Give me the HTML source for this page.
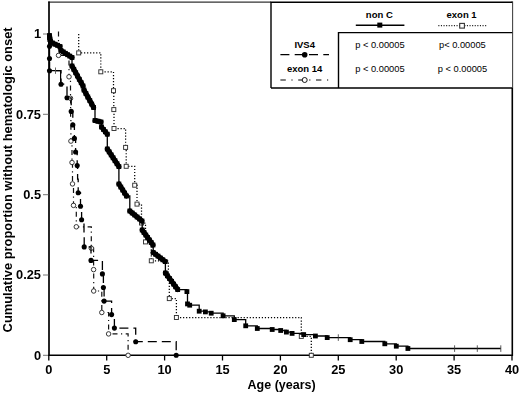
<!DOCTYPE html>
<html><head><meta charset="utf-8"><style>
html,body{margin:0;padding:0;background:#fff;width:520px;height:393px;overflow:hidden}
svg{display:block;filter:blur(0.25px)}
text{font-family:"Liberation Sans",sans-serif;fill:#000}
.tk{font-weight:bold;font-size:12.8px}
.lab{font-weight:bold;font-size:12.3px}
.ylab{font-weight:bold;font-size:12px}
.lg{font-weight:bold;font-size:9.5px}
.pv{font-size:9.3px}
</style></head><body>
<svg width="520" height="393" viewBox="0 0 520 393">
<line x1="48.2" y1="2.1" x2="271" y2="2.1" stroke="#333" stroke-width="1.3"/>
<line x1="49" y1="1.5" x2="49" y2="356" stroke="#000" stroke-width="1.7"/>
<line x1="48" y1="355.3" x2="512.6" y2="355.3" stroke="#000" stroke-width="1.5"/>
<line x1="512.3" y1="1.5" x2="512.3" y2="356" stroke="#000" stroke-width="1.6"/>
<line x1="43" y1="355.3" x2="48.5" y2="355.3" stroke="#666" stroke-width="0.9"/>
<text x="41" y="359.6" class="tk" text-anchor="end">0</text>
<line x1="43" y1="275.0" x2="48.5" y2="275.0" stroke="#666" stroke-width="0.9"/>
<text x="41" y="279.3" class="tk" text-anchor="end">0.25</text>
<line x1="43" y1="194.7" x2="48.5" y2="194.7" stroke="#666" stroke-width="0.9"/>
<text x="41" y="199.0" class="tk" text-anchor="end">0.5</text>
<line x1="43" y1="114.3" x2="48.5" y2="114.3" stroke="#666" stroke-width="0.9"/>
<text x="41" y="118.6" class="tk" text-anchor="end">0.75</text>
<line x1="43" y1="34.0" x2="48.5" y2="34.0" stroke="#666" stroke-width="0.9"/>
<text x="41" y="38.3" class="tk" text-anchor="end">1</text>
<line x1="48.8" y1="355" x2="48.8" y2="360.5" stroke="#000" stroke-width="1.3"/>
<text x="48.8" y="373.8" class="tk" text-anchor="middle">0</text>
<line x1="106.7" y1="355" x2="106.7" y2="360.5" stroke="#000" stroke-width="1.3"/>
<text x="106.7" y="373.8" class="tk" text-anchor="middle">5</text>
<line x1="164.6" y1="355" x2="164.6" y2="360.5" stroke="#000" stroke-width="1.3"/>
<text x="164.6" y="373.8" class="tk" text-anchor="middle">10</text>
<line x1="222.5" y1="355" x2="222.5" y2="360.5" stroke="#000" stroke-width="1.3"/>
<text x="222.5" y="373.8" class="tk" text-anchor="middle">15</text>
<line x1="280.4" y1="355" x2="280.4" y2="360.5" stroke="#000" stroke-width="1.3"/>
<text x="280.4" y="373.8" class="tk" text-anchor="middle">20</text>
<line x1="338.3" y1="355" x2="338.3" y2="360.5" stroke="#000" stroke-width="1.3"/>
<text x="338.3" y="373.8" class="tk" text-anchor="middle">25</text>
<line x1="396.2" y1="355" x2="396.2" y2="360.5" stroke="#000" stroke-width="1.3"/>
<text x="396.2" y="373.8" class="tk" text-anchor="middle">30</text>
<line x1="454.1" y1="355" x2="454.1" y2="360.5" stroke="#000" stroke-width="1.3"/>
<text x="454.1" y="373.8" class="tk" text-anchor="middle">35</text>
<line x1="512.0" y1="355" x2="512.0" y2="360.5" stroke="#000" stroke-width="1.3"/>
<text x="512.0" y="373.8" class="tk" text-anchor="middle">40</text>
<text x="281.6" y="388.8" class="lab" text-anchor="middle" textLength="68" lengthAdjust="spacingAndGlyphs">Age (years)</text>
<text transform="translate(12.3,179.9) rotate(-90)" class="ylab" text-anchor="middle" textLength="305" lengthAdjust="spacingAndGlyphs">Cumulative proportion without hematologic onset</text>
<path d="M78.7 34.0 H78.7 V52.9 H100.8 V71.8 H113.5 V90.7 H113.8 V109.6 H114.0 V128.5 H125.6 V147.4 H126.2 V166.3 H134.7 V185.2 H137.0 V204.1 H141.5 V223.0 H145.5 V241.9 H151.3 V260.8 H168.4 V279.7 H169.3 V298.6 H176.4 V317.5 H301.3 V336.4 H311.3 V355.3" fill="none" stroke="#000" stroke-width="1.25" stroke-dasharray="1.2 1.83"/>
<rect x="76.7" y="50.9" width="4.0" height="4.0" fill="#fff" stroke="#333" stroke-width="0.95"/>
<rect x="98.8" y="69.8" width="4.0" height="4.0" fill="#fff" stroke="#333" stroke-width="0.95"/>
<rect x="111.5" y="88.7" width="4.0" height="4.0" fill="#fff" stroke="#333" stroke-width="0.95"/>
<rect x="111.8" y="107.6" width="4.0" height="4.0" fill="#fff" stroke="#333" stroke-width="0.95"/>
<rect x="112.0" y="126.5" width="4.0" height="4.0" fill="#fff" stroke="#333" stroke-width="0.95"/>
<rect x="123.6" y="145.4" width="4.0" height="4.0" fill="#fff" stroke="#333" stroke-width="0.95"/>
<rect x="124.2" y="164.3" width="4.0" height="4.0" fill="#fff" stroke="#333" stroke-width="0.95"/>
<rect x="132.7" y="183.2" width="4.0" height="4.0" fill="#fff" stroke="#333" stroke-width="0.95"/>
<rect x="135.0" y="202.1" width="4.0" height="4.0" fill="#fff" stroke="#333" stroke-width="0.95"/>
<rect x="139.5" y="221.0" width="4.0" height="4.0" fill="#fff" stroke="#333" stroke-width="0.95"/>
<rect x="143.5" y="239.9" width="4.0" height="4.0" fill="#fff" stroke="#333" stroke-width="0.95"/>
<rect x="149.3" y="258.8" width="4.0" height="4.0" fill="#fff" stroke="#333" stroke-width="0.95"/>
<rect x="167.3" y="296.6" width="4.0" height="4.0" fill="#fff" stroke="#333" stroke-width="0.95"/>
<rect x="174.4" y="315.5" width="4.0" height="4.0" fill="#fff" stroke="#333" stroke-width="0.95"/>
<rect x="299.3" y="334.4" width="4.0" height="4.0" fill="#fff" stroke="#333" stroke-width="0.95"/>
<rect x="309.3" y="353.3" width="4.0" height="4.0" fill="#fff" stroke="#333" stroke-width="0.95"/>
<path d="M58.5 31.5 H58.5 V55.4 H69.0 V76.8 H70.5 V98.3 H70.6 V119.7 H70.9 V141.1 H72.0 V162.5 H72.5 V183.9 H73.5 V205.4 H76.3 V226.8 H91.3 V248.2 H93.6 V269.6 H93.7 V291.0 H101.8 V312.5 H108.6 V333.9 H128.1 V355.3" fill="none" stroke="#111" stroke-width="1.2" stroke-dasharray="5 3.5 1.2 3.5"/>
<circle cx="58.5" cy="55.4" r="2.25" fill="#fff" stroke="#222" stroke-width="0.9"/>
<circle cx="69.0" cy="76.8" r="2.25" fill="#fff" stroke="#222" stroke-width="0.9"/>
<circle cx="70.5" cy="98.3" r="2.25" fill="#fff" stroke="#222" stroke-width="0.9"/>
<circle cx="70.9" cy="141.1" r="2.25" fill="#fff" stroke="#222" stroke-width="0.9"/>
<circle cx="72.0" cy="162.5" r="2.25" fill="#fff" stroke="#222" stroke-width="0.9"/>
<circle cx="72.5" cy="183.9" r="2.25" fill="#fff" stroke="#222" stroke-width="0.9"/>
<circle cx="73.5" cy="205.4" r="2.25" fill="#fff" stroke="#222" stroke-width="0.9"/>
<circle cx="76.3" cy="226.8" r="2.25" fill="#fff" stroke="#222" stroke-width="0.9"/>
<circle cx="91.3" cy="248.2" r="2.25" fill="#fff" stroke="#222" stroke-width="0.9"/>
<circle cx="93.6" cy="269.6" r="2.25" fill="#fff" stroke="#222" stroke-width="0.9"/>
<circle cx="93.7" cy="291.0" r="2.25" fill="#fff" stroke="#222" stroke-width="0.9"/>
<circle cx="101.8" cy="312.5" r="2.25" fill="#fff" stroke="#222" stroke-width="0.9"/>
<circle cx="108.6" cy="333.9" r="2.25" fill="#fff" stroke="#222" stroke-width="0.9"/>
<circle cx="128.1" cy="355.3" r="2.25" fill="#fff" stroke="#222" stroke-width="0.9"/>
<path d="M49.5 34.0 H49.5 V46.3 H49.5 V58.5 H49.5 V70.7 H61.0 V84.2 H67.0 V97.8 H71.2 V111.4 H72.8 V124.9 H74.4 V138.4 H75.6 V152.0 H77.2 V165.6 H77.6 V179.1 H78.2 V192.7 H80.5 V206.2 H81.6 V219.8 H84.0 V233.3 H84.2 V246.9 H91.0 V260.4 H102.4 V273.9 H103.4 V287.5 H104.1 V301.1 H111.6 V314.6 H114.4 V328.1 H135.7 V341.7 H176.2 V355.2" fill="none" stroke="#000" stroke-width="1.3" stroke-dasharray="9 5"/>
<circle cx="49.5" cy="46.3" r="2.55" fill="#000"/>
<circle cx="49.5" cy="58.5" r="2.55" fill="#000"/>
<circle cx="49.5" cy="70.7" r="2.55" fill="#000"/>
<circle cx="61.0" cy="84.2" r="2.55" fill="#000"/>
<circle cx="67.0" cy="97.8" r="2.55" fill="#000"/>
<circle cx="71.2" cy="111.4" r="2.55" fill="#000"/>
<circle cx="72.8" cy="124.9" r="2.55" fill="#000"/>
<circle cx="74.4" cy="138.4" r="2.55" fill="#000"/>
<circle cx="75.6" cy="152.0" r="2.55" fill="#000"/>
<circle cx="77.2" cy="165.6" r="2.55" fill="#000"/>
<circle cx="78.2" cy="192.7" r="2.55" fill="#000"/>
<circle cx="80.5" cy="206.2" r="2.55" fill="#000"/>
<circle cx="81.6" cy="219.8" r="2.55" fill="#000"/>
<circle cx="84.2" cy="246.9" r="2.55" fill="#000"/>
<circle cx="91.0" cy="260.4" r="2.55" fill="#000"/>
<circle cx="102.4" cy="273.9" r="2.55" fill="#000"/>
<circle cx="103.4" cy="287.5" r="2.55" fill="#000"/>
<circle cx="104.1" cy="301.1" r="2.55" fill="#000"/>
<circle cx="111.6" cy="314.6" r="2.55" fill="#000"/>
<circle cx="114.4" cy="328.1" r="2.55" fill="#000"/>
<circle cx="135.7" cy="341.7" r="2.55" fill="#000"/>
<circle cx="176.2" cy="355.2" r="2.55" fill="#000"/>
<path d="M49.5 58.5 V70.7 H60.6 V84" fill="none" stroke="#000" stroke-width="1.2"/>
<line x1="55.5" y1="67.5" x2="55.5" y2="73.9" stroke="#555" stroke-width="0.9"/>
<path d="M49.0 34.0 H49.5 V35.5 H49.5 V37.5 H49.8 V39.5 H50.5 V41.5 H52.5 V43.0 H55.0 V44.2 H57.5 V45.3 H60.0 V46.5 H61.0 V50.5 H63.2 V51.9 H65.4 V53.3 H67.6 V54.7 H69.8 V56.1 H72.0 V57.5 H72.0 V66.0 H73.8 V69.3 H75.7 V72.7 H77.5 V76.0 H79.3 V79.3 H81.2 V82.7 H83.0 V86.0 H84.0 V90.0 H85.9 V93.5 H87.8 V97.0 H89.8 V100.5 H91.7 V104.0 H93.6 V107.5 H95.0 V120.5 H98.0 V121.2 H101.0 V122.0 H101.5 V127.0 H103.4 V129.4 H105.4 V131.8 H107.3 V134.2 H107.3 V149.0 H109.2 V151.9 H111.2 V154.9 H113.1 V157.8 H115.0 V160.7 H117.0 V163.7 H118.9 V166.6 H118.9 V184.0 H120.8 V187.0 H122.7 V190.0 H124.6 V193.0 H126.5 V196.0 H129.8 V211.0 H132.2 V213.0 H134.7 V215.0 H137.1 V217.0 H139.6 V219.0 H142.0 V221.0 H142.2 V230.0 H144.0 V232.5 H145.8 V235.0 H147.6 V237.5 H149.4 V240.0 H151.2 V242.5 H153.0 V245.0 H153.2 V252.5 H155.6 V254.3 H158.0 V256.1 H160.4 V258.0 H162.8 V259.8 H165.2 V261.6 H165.4 V273.0 H167.4 V275.8 H169.5 V278.5 H171.6 V281.3 H173.6 V284.1 H175.6 V286.8 H177.7 V289.6 H186.9 V291.6 H187.5 V303.9 H189.7 V305.2 H199.2 V311.2 H205.4 V311.9 H211.2 V313.2 H223.1 V315.8 H234.3 V319.6 H245.7 V325.8 H257.3 V328.5 H272.2 V329.5 H280.7 V330.5 H286.4 V332.1 H292.1 V333.4 H303.7 V334.6 H315.4 V336.0 H327.2 V337.6 H350.2 V339.7 H361.8 V341.5 H384.8 V343.8 H396.3 V346.2 H407.9 V348.5 H500.8" fill="none" stroke="#000" stroke-width="1.3"/>
<line x1="49.6" y1="35.8" x2="50.5" y2="41.5" stroke="#000" stroke-width="5.0" stroke-linecap="round"/>
<line x1="52.5" y1="43.0" x2="60.0" y2="46.5" stroke="#000" stroke-width="5.0" stroke-linecap="round"/>
<line x1="61.0" y1="50.5" x2="72.0" y2="57.5" stroke="#000" stroke-width="5.0" stroke-linecap="round"/>
<line x1="72.0" y1="66.0" x2="83.0" y2="86.0" stroke="#000" stroke-width="5.0" stroke-linecap="round"/>
<line x1="84.0" y1="90.0" x2="93.6" y2="107.5" stroke="#000" stroke-width="5.0" stroke-linecap="round"/>
<line x1="95.0" y1="120.5" x2="101.0" y2="122.0" stroke="#000" stroke-width="5.0" stroke-linecap="round"/>
<line x1="101.5" y1="127.0" x2="107.3" y2="134.2" stroke="#000" stroke-width="5.0" stroke-linecap="round"/>
<line x1="107.3" y1="149.0" x2="118.9" y2="166.6" stroke="#000" stroke-width="5.0" stroke-linecap="round"/>
<line x1="118.9" y1="184.0" x2="126.5" y2="196.0" stroke="#000" stroke-width="5.0" stroke-linecap="round"/>
<line x1="129.8" y1="211.0" x2="142.0" y2="221.0" stroke="#000" stroke-width="5.0" stroke-linecap="round"/>
<line x1="142.2" y1="230.0" x2="153.0" y2="245.0" stroke="#000" stroke-width="5.0" stroke-linecap="round"/>
<line x1="153.2" y1="252.5" x2="165.2" y2="261.6" stroke="#000" stroke-width="5.0" stroke-linecap="round"/>
<line x1="165.4" y1="273.0" x2="177.7" y2="289.6" stroke="#000" stroke-width="5.0" stroke-linecap="round"/>
<rect x="47.1" y="33.1" width="4.8" height="4.8" fill="#000"/>
<rect x="47.1" y="35.1" width="4.8" height="4.8" fill="#000"/>
<rect x="47.4" y="37.1" width="4.8" height="4.8" fill="#000"/>
<rect x="48.1" y="39.1" width="4.8" height="4.8" fill="#000"/>
<rect x="50.1" y="40.6" width="4.8" height="4.8" fill="#000"/>
<rect x="52.6" y="41.8" width="4.8" height="4.8" fill="#000"/>
<rect x="55.1" y="42.9" width="4.8" height="4.8" fill="#000"/>
<rect x="57.6" y="44.1" width="4.8" height="4.8" fill="#000"/>
<rect x="58.6" y="48.1" width="4.8" height="4.8" fill="#000"/>
<rect x="60.8" y="49.5" width="4.8" height="4.8" fill="#000"/>
<rect x="63.0" y="50.9" width="4.8" height="4.8" fill="#000"/>
<rect x="65.2" y="52.3" width="4.8" height="4.8" fill="#000"/>
<rect x="67.4" y="53.7" width="4.8" height="4.8" fill="#000"/>
<rect x="69.6" y="55.1" width="4.8" height="4.8" fill="#000"/>
<rect x="69.6" y="63.6" width="4.8" height="4.8" fill="#000"/>
<rect x="71.4" y="66.9" width="4.8" height="4.8" fill="#000"/>
<rect x="73.3" y="70.3" width="4.8" height="4.8" fill="#000"/>
<rect x="75.1" y="73.6" width="4.8" height="4.8" fill="#000"/>
<rect x="76.9" y="76.9" width="4.8" height="4.8" fill="#000"/>
<rect x="78.8" y="80.3" width="4.8" height="4.8" fill="#000"/>
<rect x="80.6" y="83.6" width="4.8" height="4.8" fill="#000"/>
<rect x="81.6" y="87.6" width="4.8" height="4.8" fill="#000"/>
<rect x="83.5" y="91.1" width="4.8" height="4.8" fill="#000"/>
<rect x="85.4" y="94.6" width="4.8" height="4.8" fill="#000"/>
<rect x="87.4" y="98.1" width="4.8" height="4.8" fill="#000"/>
<rect x="89.3" y="101.6" width="4.8" height="4.8" fill="#000"/>
<rect x="91.2" y="105.1" width="4.8" height="4.8" fill="#000"/>
<rect x="92.6" y="118.1" width="4.8" height="4.8" fill="#000"/>
<rect x="95.6" y="118.8" width="4.8" height="4.8" fill="#000"/>
<rect x="98.6" y="119.6" width="4.8" height="4.8" fill="#000"/>
<rect x="99.1" y="124.6" width="4.8" height="4.8" fill="#000"/>
<rect x="101.0" y="127.0" width="4.8" height="4.8" fill="#000"/>
<rect x="103.0" y="129.4" width="4.8" height="4.8" fill="#000"/>
<rect x="104.9" y="131.8" width="4.8" height="4.8" fill="#000"/>
<rect x="104.9" y="146.6" width="4.8" height="4.8" fill="#000"/>
<rect x="106.8" y="149.5" width="4.8" height="4.8" fill="#000"/>
<rect x="108.8" y="152.5" width="4.8" height="4.8" fill="#000"/>
<rect x="110.7" y="155.4" width="4.8" height="4.8" fill="#000"/>
<rect x="112.6" y="158.3" width="4.8" height="4.8" fill="#000"/>
<rect x="114.6" y="161.3" width="4.8" height="4.8" fill="#000"/>
<rect x="116.5" y="164.2" width="4.8" height="4.8" fill="#000"/>
<rect x="116.5" y="181.6" width="4.8" height="4.8" fill="#000"/>
<rect x="118.4" y="184.6" width="4.8" height="4.8" fill="#000"/>
<rect x="120.3" y="187.6" width="4.8" height="4.8" fill="#000"/>
<rect x="122.2" y="190.6" width="4.8" height="4.8" fill="#000"/>
<rect x="124.1" y="193.6" width="4.8" height="4.8" fill="#000"/>
<rect x="127.4" y="208.6" width="4.8" height="4.8" fill="#000"/>
<rect x="129.8" y="210.6" width="4.8" height="4.8" fill="#000"/>
<rect x="132.3" y="212.6" width="4.8" height="4.8" fill="#000"/>
<rect x="134.7" y="214.6" width="4.8" height="4.8" fill="#000"/>
<rect x="137.2" y="216.6" width="4.8" height="4.8" fill="#000"/>
<rect x="139.6" y="218.6" width="4.8" height="4.8" fill="#000"/>
<rect x="139.8" y="227.6" width="4.8" height="4.8" fill="#000"/>
<rect x="141.6" y="230.1" width="4.8" height="4.8" fill="#000"/>
<rect x="143.4" y="232.6" width="4.8" height="4.8" fill="#000"/>
<rect x="145.2" y="235.1" width="4.8" height="4.8" fill="#000"/>
<rect x="147.0" y="237.6" width="4.8" height="4.8" fill="#000"/>
<rect x="148.8" y="240.1" width="4.8" height="4.8" fill="#000"/>
<rect x="150.6" y="242.6" width="4.8" height="4.8" fill="#000"/>
<rect x="150.8" y="250.1" width="4.8" height="4.8" fill="#000"/>
<rect x="153.2" y="251.9" width="4.8" height="4.8" fill="#000"/>
<rect x="155.6" y="253.7" width="4.8" height="4.8" fill="#000"/>
<rect x="158.0" y="255.6" width="4.8" height="4.8" fill="#000"/>
<rect x="160.4" y="257.4" width="4.8" height="4.8" fill="#000"/>
<rect x="162.8" y="259.2" width="4.8" height="4.8" fill="#000"/>
<rect x="163.0" y="270.6" width="4.8" height="4.8" fill="#000"/>
<rect x="165.0" y="273.4" width="4.8" height="4.8" fill="#000"/>
<rect x="167.1" y="276.1" width="4.8" height="4.8" fill="#000"/>
<rect x="169.2" y="278.9" width="4.8" height="4.8" fill="#000"/>
<rect x="171.2" y="281.7" width="4.8" height="4.8" fill="#000"/>
<rect x="173.2" y="284.4" width="4.8" height="4.8" fill="#000"/>
<rect x="175.3" y="287.2" width="4.8" height="4.8" fill="#000"/>
<rect x="184.5" y="289.2" width="4.8" height="4.8" fill="#000"/>
<rect x="185.1" y="301.5" width="4.8" height="4.8" fill="#000"/>
<rect x="187.3" y="302.8" width="4.8" height="4.8" fill="#000"/>
<rect x="196.8" y="308.8" width="4.8" height="4.8" fill="#000"/>
<rect x="203.0" y="309.5" width="4.8" height="4.8" fill="#000"/>
<rect x="208.8" y="310.8" width="4.8" height="4.8" fill="#000"/>
<rect x="220.7" y="313.4" width="4.8" height="4.8" fill="#000"/>
<rect x="231.9" y="317.2" width="4.8" height="4.8" fill="#000"/>
<rect x="243.3" y="323.4" width="4.8" height="4.8" fill="#000"/>
<rect x="254.9" y="326.1" width="4.8" height="4.8" fill="#000"/>
<rect x="269.8" y="327.1" width="4.8" height="4.8" fill="#000"/>
<rect x="278.3" y="328.1" width="4.8" height="4.8" fill="#000"/>
<rect x="284.0" y="329.7" width="4.8" height="4.8" fill="#000"/>
<rect x="289.7" y="331.0" width="4.8" height="4.8" fill="#000"/>
<rect x="301.3" y="332.2" width="4.8" height="4.8" fill="#000"/>
<rect x="313.0" y="333.6" width="4.8" height="4.8" fill="#000"/>
<rect x="324.8" y="335.2" width="4.8" height="4.8" fill="#000"/>
<rect x="347.8" y="337.3" width="4.8" height="4.8" fill="#000"/>
<rect x="359.4" y="339.1" width="4.8" height="4.8" fill="#000"/>
<rect x="382.4" y="341.4" width="4.8" height="4.8" fill="#000"/>
<rect x="393.9" y="343.8" width="4.8" height="4.8" fill="#000"/>
<rect x="405.5" y="346.1" width="4.8" height="4.8" fill="#000"/>
<line x1="338.3" y1="334.3" x2="338.3" y2="340.9" stroke="#333" stroke-width="0.8"/>
<line x1="454.6" y1="345.3" x2="454.6" y2="351.9" stroke="#333" stroke-width="0.8"/>
<line x1="477.3" y1="345.3" x2="477.3" y2="351.9" stroke="#333" stroke-width="0.8"/>
<line x1="500.8" y1="345.3" x2="500.8" y2="351.9" stroke="#333" stroke-width="0.8"/>
<rect x="271" y="2.2" width="241.3" height="85.8" fill="#fff" stroke="none"/>
<path d="M271 88 V2.2 H512.3 M271 88 H512.3 M338.5 88 V32.6 H512.3" fill="none" stroke="#000" stroke-width="1.4"/>
<text x="379.3" y="18.3" class="lg" text-anchor="middle">non C</text>
<text x="461.6" y="18.3" class="lg" text-anchor="middle">exon 1</text>
<line x1="355.8" y1="25.2" x2="404.4" y2="25.2" stroke="#000" stroke-width="1.4"/>
<rect x="377.3" y="22.6" width="5" height="5" fill="#000"/>
<line x1="438.3" y1="25.6" x2="486.3" y2="25.6" stroke="#222" stroke-width="1.1" stroke-dasharray="1.1 1.5"/>
<rect x="459.7" y="23.4" width="4.7" height="4.7" fill="#fff" stroke="#333" stroke-width="1.1"/>
<text x="304.7" y="47.6" class="lg" text-anchor="middle">IVS4</text>
<text x="304.7" y="72.4" class="lg" text-anchor="middle">exon 14</text>
<line x1="280.4" y1="54.7" x2="329" y2="54.7" stroke="#000" stroke-width="1.2" stroke-dasharray="9 5.3"/>
<circle cx="304.7" cy="54.7" r="2.8" fill="#000"/>
<line x1="280.4" y1="80" x2="329" y2="80" stroke="#000" stroke-width="1.2" stroke-dasharray="5.4 5.6 1.2 5.6"/>
<circle cx="304.7" cy="80" r="2.5" fill="#fff" stroke="#000" stroke-width="0.9"/>
<text x="355.2" y="47.5" class="pv">p &lt; 0.00005</text>
<text x="439.0" y="47.5" class="pv">p&lt; 0.00005</text>
<text x="355.2" y="72.4" class="pv">p &lt; 0.00005</text>
<text x="437.8" y="72.4" class="pv">p &lt; 0.00005</text>
</svg>
</body></html>
